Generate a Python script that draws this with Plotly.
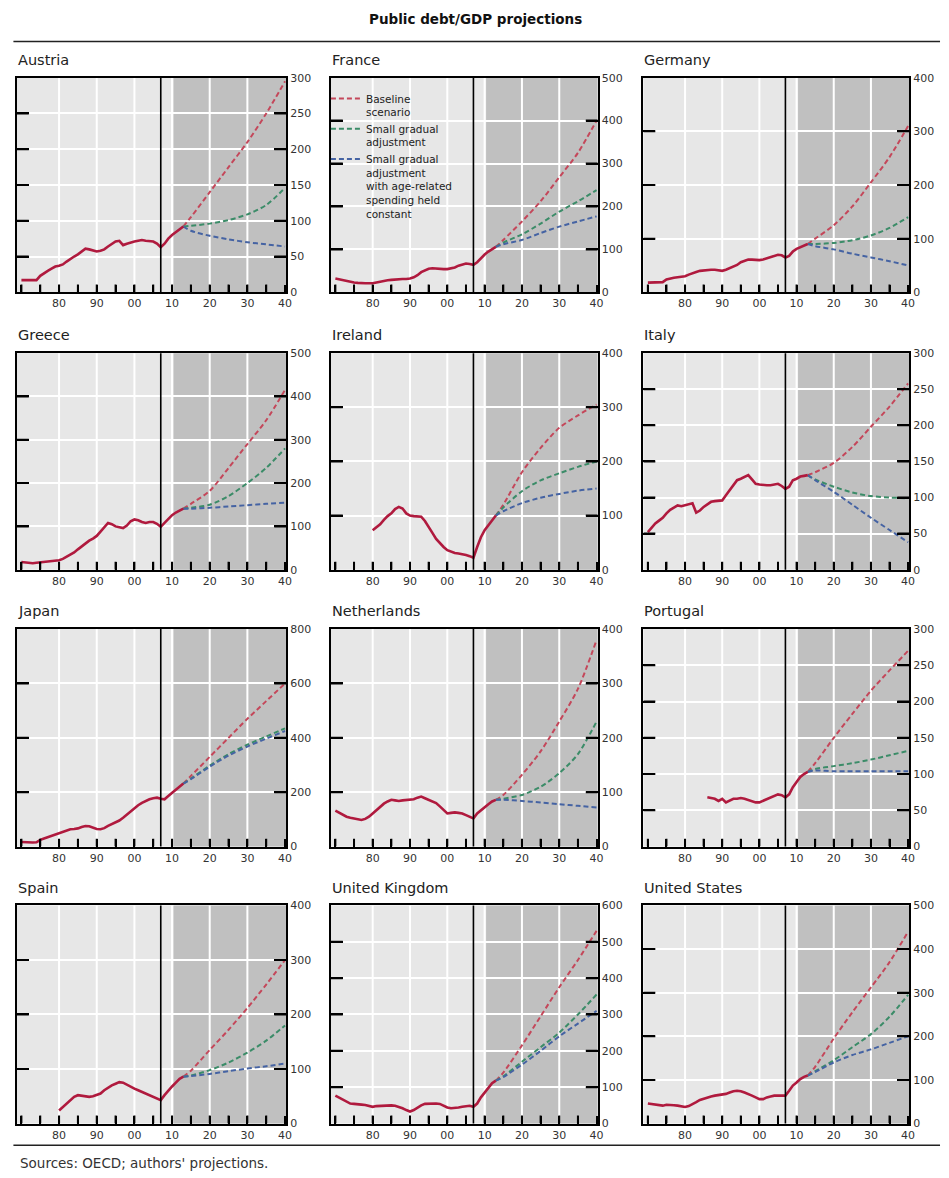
import plotly.graph_objects as go

# ---------------------------------------------------------------------------
# Public debt / GDP (per cent): history and three projection scenarios
# ---------------------------------------------------------------------------
PROJ_YEARS = [2013, 2015, 2020, 2025, 2030, 2035, 2040]
LAST_HIST_YEAR = 2013

austria_start = 1970
austria_hist = [17, 17, 16, 16, 17, 23, 27, 30, 33, 36, 37, 39, 43, 47, 50, 53, 57, 61, 60, 58,
                57, 58, 60, 64, 67, 71, 72, 66, 68, 70, 71, 72, 73, 72, 72, 71, 68, 63, 68, 75,
                80, 84, 89, 92]
austria_base = [92, 105, 140, 175, 210, 250, 295]
austria_small = [92, 93, 96, 101, 109, 122, 146]
austria_age = [92, 86, 79, 74, 70, 67, 64]

france_start = 1970
france_hist = [32, 30, 28, 26, 24, 23, 22, 21, 21, 21, 21, 23, 25, 27, 28, 29, 30, 31, 31, 31,
               32, 35, 40, 47, 52, 55, 56, 55, 54, 54, 54, 56, 58, 62, 65, 67, 66, 64, 70, 80,
               88, 95, 100, 106]
france_base = [106, 122, 165, 212, 268, 325, 400]
france_small = [106, 116, 135, 160, 188, 212, 238]
france_age = [106, 112, 122, 138, 153, 165, 177]

germany_start = 1970
germany_hist = [18, 18, 18, 18, 19, 24, 26, 27, 28, 29, 30, 33, 36, 38, 40, 41, 42, 42, 42, 41,
                40, 42, 45, 48, 51, 56, 59, 61, 61, 60, 60, 61, 63, 66, 68, 70, 69, 65, 68, 76,
                81, 84, 87, 90]
germany_base = [90, 100, 125, 160, 205, 252, 310]
germany_small = [90, 90, 92, 97, 106, 120, 140]
germany_age = [90, 86, 80, 72, 65, 58, 50]

greece_start = 1970
greece_hist = [18, 17, 16, 15, 16, 17, 17, 18, 19, 20, 22, 25, 30, 35, 40, 47, 54, 60, 67, 72,
               78, 88, 98, 108, 105, 100, 98, 96, 102, 112, 116, 114, 110, 108, 110, 110, 106, 99, 108, 118,
               126, 132, 137, 141]
greece_base = [141, 152, 182, 235, 290, 345, 415]
greece_small = [141, 143, 150, 170, 200, 235, 280]
greece_age = [141, 141, 143, 146, 149, 152, 155]

ireland_start = 1980
ireland_hist = [73, 78, 84, 92, 99, 104, 112, 116, 113, 104, 100, 99, 98, 98, 90, 80, 68, 57, 49, 42,
                36, 33, 31, 30, 29, 27, 25, 22, 42, 60, 73, 82, 93, 100]
ireland_base = [100, 120, 180, 225, 262, 285, 305]
ireland_small = [100, 115, 145, 165, 178, 190, 200]
ireland_age = [100, 108, 123, 133, 140, 146, 150]

italy_start = 1970
italy_hist = [52, 58, 64, 68, 72, 78, 83, 86, 89, 88, 89, 90, 92, 79, 82, 87, 91, 94, 95, 95,
              96, 103, 110, 117, 124, 126, 129, 131, 125, 119, 118, 117, 117, 117, 118, 119, 116, 112, 115, 124,
              126, 129, 130, 131]
italy_base = [131, 135, 148, 170, 198, 226, 258]
italy_small = [131, 125, 115, 107, 102, 100, 99]
italy_age = [131, 124, 108, 90, 72, 55, 38]

japan_start = 1970
japan_hist = [17, 16, 15, 15, 16, 25, 30, 35, 40, 46, 51, 56, 60, 64, 65, 67, 72, 76, 75, 70,
              65, 64, 68, 76, 82, 88, 96, 106, 118, 131, 143, 152, 161, 168, 174, 178, 180, 176, 174, 186,
              198, 210, 222, 232]
japan_base = [232, 260, 330, 400, 470, 535, 600]
japan_small = [232, 250, 298, 340, 375, 405, 435]
japan_age = [232, 248, 294, 335, 368, 397, 425]

netherlands_start = 1970
netherlands_hist = [66, 62, 58, 55, 53, 52, 50, 49, 51, 55, 61, 67, 73, 79, 83, 86, 85, 84, 85, 86,
                    87, 87, 90, 92, 89, 86, 84, 80, 74, 67, 61, 62, 63, 62, 61, 58, 55, 52, 61, 67,
                    72, 78, 83, 86]
netherlands_base = [86, 95, 132, 175, 230, 290, 380]
netherlands_small = [86, 88, 95, 110, 135, 170, 230]
netherlands_age = [86, 86, 84, 81, 78, 75, 72]

portugal_start = 1986
portugal_hist = [68, 67, 66, 63, 66, 61, 64, 66, 66, 67, 66, 64, 62, 61, 61, 63, 66, 68, 70, 72,
                 71, 68, 72, 82, 89, 96, 100, 103]
portugal_base = [103, 115, 150, 183, 215, 243, 270]
portugal_small = [103, 107, 111, 115, 120, 126, 132]
portugal_age = [103, 105, 104, 104, 104, 104, 104]

spain_start = 1980
spain_hist = [24, 30, 37, 43, 49, 52, 51, 49, 49, 50, 52, 55, 61, 66, 70, 73, 76, 75, 71, 67,
              64, 61, 58, 55, 52, 49, 46, 43, 52, 61, 68, 75, 82, 86]
spain_base = [86, 97, 135, 172, 212, 255, 300]
spain_small = [86, 88, 98, 112, 130, 152, 180]
spain_age = [86, 87, 91, 96, 101, 105, 110]

uk_start = 1970
uk_hist = [77, 71, 65, 60, 55, 54, 54, 52, 51, 48, 46, 48, 49, 50, 51, 50, 49, 46, 42, 37,
           33, 37, 44, 50, 54, 55, 55, 55, 54, 49, 44, 42, 42, 44, 46, 48, 49, 46, 55, 72,
           86, 100, 111, 118]
uk_base = [118, 140, 215, 295, 375, 450, 530]
uk_small = [118, 130, 170, 210, 250, 300, 355]
uk_age = [118, 128, 162, 200, 240, 275, 310]

us_start = 1970
us_hist = [46, 45, 44, 42, 41, 43, 43, 42, 41, 39, 38, 40, 44, 49, 54, 57, 60, 62, 64, 65,
           66, 68, 71, 74, 75, 74, 71, 68, 64, 60, 56, 56, 60, 62, 64, 64, 64, 64, 75, 87,
           94, 102, 107, 110]
us_base = [110, 130, 195, 255, 312, 370, 440]
us_small = [110, 120, 145, 175, 205, 245, 295]
us_age = [110, 118, 140, 157, 170, 185, 200]

# y-axis scale per panel: (upper bound, tick step)
austria_scale, france_scale, germany_scale = (300, 50), (500, 100), (400, 100)
greece_scale, ireland_scale, italy_scale = (500, 100), (400, 100), (300, 50)
japan_scale, netherlands_scale, portugal_scale = (800, 200), (400, 100), (300, 50)
spain_scale, uk_scale, us_scale = (400, 100), (600, 100), (500, 100)

# x-axis: tick marks every 5 years, labels and grid lines every 10
X_TICK_YEARS = list(range(1970, 2041, 5))
X_TICK_TEXT = ["" if (y % 10 or y == 1970) else f"{y % 100:02d}" for y in X_TICK_YEARS]
X_GRID_YEARS = [1980, 1990, 2000, 2010, 2020, 2030]
X_MARK_YEARS = list(range(1970, 2040, 5))

SCENARIO_NAMES = ["Baseline<br>scenario",
                  "Small gradual<br>adjustment",
                  "Small gradual<br>adjustment<br>with age-related<br>spending held<br>constant"]

panels = [
    ("Austria", austria_start, austria_hist, austria_base, austria_small, austria_age, austria_scale),
    ("France", france_start, france_hist, france_base, france_small, france_age, france_scale),
    ("Germany", germany_start, germany_hist, germany_base, germany_small, germany_age, germany_scale),
    ("Greece", greece_start, greece_hist, greece_base, greece_small, greece_age, greece_scale),
    ("Ireland", ireland_start, ireland_hist, ireland_base, ireland_small, ireland_age, ireland_scale),
    ("Italy", italy_start, italy_hist, italy_base, italy_small, italy_age, italy_scale),
    ("Japan", japan_start, japan_hist, japan_base, japan_small, japan_age, japan_scale),
    ("Netherlands", netherlands_start, netherlands_hist, netherlands_base, netherlands_small,
     netherlands_age, netherlands_scale),
    ("Portugal", portugal_start, portugal_hist, portugal_base, portugal_small, portugal_age, portugal_scale),
    ("Spain", spain_start, spain_hist, spain_base, spain_small, spain_age, spain_scale),
    ("United Kingdom", uk_start, uk_hist, uk_base, uk_small, uk_age, uk_scale),
    ("United States", us_start, us_hist, us_base, us_small, us_age, us_scale),
]

# ---------------------------------------------------------------------------
# Page geometry (pixels) and styling
# ---------------------------------------------------------------------------
W, H = 949, 1178
COL_X = [(17, 288), (333, 601.5), (647.5, 915)]
ROW_Y = [(72.5, 289.5), (351, 570), (630, 850), (909.5, 1130)]
X_RANGE = [1968.8, 2040.3]
CRISIS_YEAR = 2007
PROJ_SHADE_START = 2010.4
X_MARK_LEN = 8    # px, bottom tick marks
Y_MARK_LEN = 12   # px, side tick marks
MARK_W = 2

FONT = "DejaVu Sans, Verdana, sans-serif"
HIST_C = "#b01a3e"
BASE_C = "#c4475a"
SMALL_C = "#3b8c68"
AGE_C = "#4563a3"
LIGHT_BG = "#e7e7e7"
DARK_BG = "#c0c0c0"


def px_x(v):
    return v / W


def px_y(v):
    return 1 - v / H


fig = go.Figure()
shapes = []
annotations = []

for i, (name, start, hist, base, small, age, (ymax, ystep)) in enumerate(panels):
    r, c = divmod(i, 3)
    sfx = "" if i == 0 else str(i + 1)
    xa, ya = "x" + sfx, "y" + sfx
    x0, x1 = COL_X[c]
    y0, y1 = ROW_Y[r]

    hist_years = list(range(start, LAST_HIST_YEAR + 1))

    for vals, col, label in ((base, BASE_C, SCENARIO_NAMES[0]),
                             (small, SMALL_C, SCENARIO_NAMES[1]),
                             (age, AGE_C, SCENARIO_NAMES[2])):
        fig.add_trace(go.Scatter(
            x=PROJ_YEARS, y=vals, mode="lines", name=label,
            line=dict(color=col, width=2, dash="5px,3px", shape="spline", smoothing=0.8),
            showlegend=(i == 0), xaxis=xa, yaxis=ya, hoverinfo="skip"))

    fig.add_trace(go.Scatter(
        x=hist_years, y=hist, mode="lines", showlegend=False,
        line=dict(color=HIST_C, width=2.6), xaxis=xa, yaxis=ya, hoverinfo="skip"))

    # inward tick marks in axis units: every 5 years along the bottom,
    # and at every y step on both sides of the frame
    mark_h = ymax * X_MARK_LEN / (y1 - y0)
    mark_w = (X_RANGE[1] - X_RANGE[0]) * Y_MARK_LEN / (x1 - x0)
    mx, my = [], []
    for tx in X_MARK_YEARS:
        mx += [tx, tx, None]
        my += [0, mark_h, None]
    for ty in range(ystep, ymax, ystep):
        mx += [X_RANGE[0], X_RANGE[0] + mark_w, None, X_RANGE[1] - mark_w, X_RANGE[1], None]
        my += [ty, ty, None, ty, ty, None]
    fig.add_trace(go.Scatter(
        x=mx, y=my, mode="lines", showlegend=False, connectgaps=False,
        line=dict(color="black", width=MARK_W), xaxis=xa, yaxis=ya, hoverinfo="skip"))

    fig.layout["xaxis" + sfx] = dict(
        domain=[px_x(x0), px_x(x1)], range=X_RANGE, anchor=ya,
        tickmode="array", tickvals=X_TICK_YEARS, ticktext=X_TICK_TEXT,
        ticks="inside", ticklen=X_MARK_LEN, tickwidth=MARK_W, tickcolor="black",
        showgrid=False,
        showline=True, linecolor="black", linewidth=1.6, mirror=True,
        zeroline=False, tickfont=dict(family=FONT, size=11, color="#333"),
        fixedrange=True)
    fig.layout["yaxis" + sfx] = dict(
        domain=[px_y(y1), px_y(y0)], range=[0, ymax], anchor=xa, side="right",
        tick0=0, dtick=ystep,
        ticks="inside", ticklen=Y_MARK_LEN, tickwidth=MARK_W, tickcolor="black",
        showgrid=True, gridcolor="white", gridwidth=2,
        showline=True, linecolor="black", linewidth=1.6, mirror="ticks",
        zeroline=False, tickfont=dict(family=FONT, size=11, color="#333"),
        fixedrange=True)

    # projection period shading
    shapes.append(dict(type="rect", xref=xa, yref=ya + " domain",
                       x0=PROJ_SHADE_START, x1=X_RANGE[1], y0=0, y1=1,
                       fillcolor=DARK_BG, line=dict(width=0), layer="below"))
    # decade grid lines
    for gx in X_GRID_YEARS:
        shapes.append(dict(type="line", xref=xa, yref=ya + " domain",
                           x0=gx, x1=gx, y0=0, y1=1,
                           line=dict(color="white", width=2), layer="below"))
    # crisis marker
    shapes.append(dict(type="line", xref=xa, yref=ya + " domain",
                       x0=CRISIS_YEAR, x1=CRISIS_YEAR, y0=0, y1=1,
                       line=dict(color="black", width=1.6), layer="above"))
    # panel title
    annotations.append(dict(text=name, xref="paper", yref="paper",
                            x=px_x(x0 - 1), y=px_y(y0 - 18), xanchor="left", yanchor="middle",
                            showarrow=False, font=dict(family=FONT, size=14.5, color="#222")))

# page title, rules and source note
annotations.append(dict(text="<b>Public debt/GDP projections</b>", xref="paper", yref="paper",
                        x=px_x(479), y=px_y(13), xanchor="center", yanchor="middle", showarrow=False,
                        font=dict(family=FONT, size=13.5, color="#111")))
annotations.append(dict(text="Sources: OECD; authors' projections.", xref="paper", yref="paper",
                        x=px_x(18.5), y=px_y(1170), xanchor="left", yanchor="middle", showarrow=False,
                        font=dict(family=FONT, size=13.5, color="#333")))
for yy in (36, 1152):
    shapes.append(dict(type="line", xref="paper", yref="paper",
                       x0=px_x(13.5), x1=px_x(946), y0=px_y(yy), y1=px_y(yy),
                       line=dict(color="#222", width=1.5)))

fig.update_layout(
    width=W, height=H, margin=dict(l=0, r=0, t=0, b=0),
    paper_bgcolor="white", plot_bgcolor=LIGHT_BG,
    shapes=shapes, annotations=annotations,
    showlegend=True,
    legend=dict(x=px_x(328), y=px_y(80), xanchor="left", yanchor="top",
                bgcolor="rgba(0,0,0,0)", borderwidth=0, valign="top",
                itemwidth=30, tracegroupgap=0, traceorder="normal",
                font=dict(family=FONT, size=10.5, color="#222")),
    font=dict(family=FONT),
)

fig.write_html("out.html", config={"displayModeBar": False})
